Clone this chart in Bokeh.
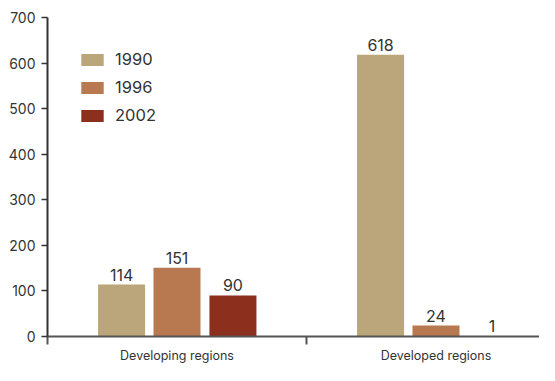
from bokeh.plotting import figure
from bokeh.models import ColumnDataSource, Range1d, FixedTicker, Legend, LegendItem
from bokeh.core.properties import value
from bokeh.embed import file_html
from bokeh.resources import INLINE

# ---- data ----
regions = ["Developing regions", "Developed regions"]
years = ["1990", "1996", "2002"]
v1990 = [114, 618]
v1996 = [151, 24]
v2002 = [90, 1]
y_ticks = [0, 100, 200, 300, 400, 500, 600, 700]

series = [v1990, v1996, v2002]
colors = ["#BAA67A", "#B97950", "#8C2F1D"]
FONT = "Inter"
TXT = "#333333"

# ---- layout constants (pixels / data units) ----
W, H = 539, 365
left_b, top_b = 47, 17
unit_px = 259.0          # pixels per region slot
frame_w = W - left_b
offsets = [-0.214, 0.0, 0.216]
bar_w = 0.1815

centers = [i + 0.5 for i in range(len(regions))]
separators = [float(i) for i in range(len(regions) + 1)]

p = figure(width=W, height=H, output_backend="svg", toolbar_location=None,
           x_range=Range1d(0, frame_w / unit_px), y_range=Range1d(0, y_ticks[-1]),
           min_border_left=left_b, min_border_right=0, min_border_top=top_b,
           min_border_bottom=0)

items = []
for k, (yr, vals) in enumerate(zip(years, series)):
    src = ColumnDataSource(dict(
        x=[c + offsets[k] for c in centers],
        top=vals,
        lbl=[str(v) for v in vals],
    ))
    r = p.vbar(x="x", top="top", width=bar_w, source=src,
               fill_color=colors[k], line_color=None)
    p.text(x="x", y="top", text="lbl", source=src, text_align="center",
           text_baseline="bottom", y_offset=-4, text_font=value(FONT),
           text_font_size="16px", text_color=TXT)
    items.append(LegendItem(label=yr, renderers=[r]))

# x axis
xa = p.xaxis[0]
xa.ticker = FixedTicker(ticks=centers, minor_ticks=separators)
xa.major_label_overrides = {c: name for c, name in zip(centers, regions)}
xa.major_tick_line_color = None
xa.major_tick_out = 0
xa.major_tick_in = 0
xa.minor_tick_out = 8
xa.minor_tick_in = 0
xa.minor_tick_line_color = "#555555"
xa.minor_tick_line_width = 2
xa.axis_line_color = "#555555"
xa.axis_line_width = 2
xa.major_label_standoff = 3
xa.major_label_text_font = FONT
xa.major_label_text_font_size = "12.5px"
xa.major_label_text_color = TXT

# y axis
ya = p.yaxis[0]
ya.ticker = FixedTicker(ticks=y_ticks)
ya.major_tick_out = 6
ya.major_tick_in = 0
ya.minor_tick_line_color = None
ya.major_tick_line_color = "#333333"
ya.major_tick_line_width = 1.5
ya.axis_line_color = "#333333"
ya.axis_line_width = 2
ya.major_label_standoff = 6
ya.major_label_text_font = FONT
ya.major_label_text_font_size = "14px"
ya.major_label_text_color = TXT

p.xgrid.grid_line_color = None
p.ygrid.grid_line_color = None
p.outline_line_color = None

legend = Legend(items=items, location=(31, 211), orientation="vertical",
                glyph_width=28, glyph_height=15, label_height=15, spacing=8,
                label_standoff=9, padding=0, margin=0,
                border_line_color=None, background_fill_alpha=0,
                label_text_font=FONT, label_text_font_size="16.5px",
                label_text_color=TXT)
p.add_layout(legend, "center")

open("out.html", "w").write(file_html(p, INLINE))
